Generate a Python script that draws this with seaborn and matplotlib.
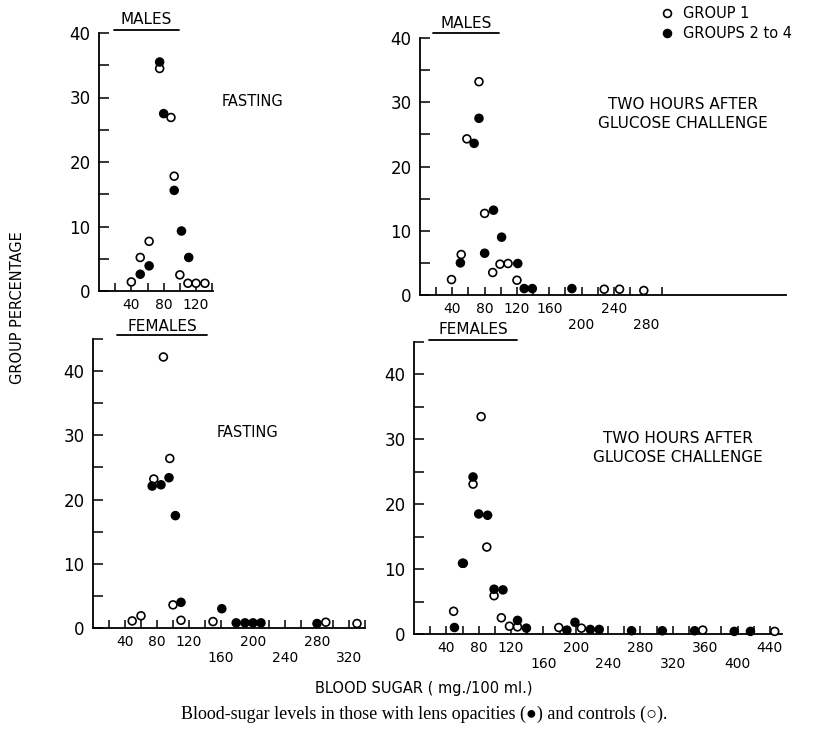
import numpy as np
import pandas as pd
import matplotlib
matplotlib.use("Agg")
import matplotlib.pyplot as plt
import seaborn as sns
from matplotlib.lines import Line2D

# blood sugar (mg/100 ml) and group percentage
# males, fasting
m_fast_g1_x = [40, 51, 62, 75, 89, 93, 100, 110, 120, 131]
m_fast_g1_y = [1.4, 5.2, 7.7, 34.5, 26.9, 17.8, 2.5, 1.2, 1.2, 1.2]
m_fast_g2_x = [51, 62, 75, 80, 93, 102, 111]
m_fast_g2_y = [2.6, 3.9, 35.5, 27.5, 15.6, 9.3, 5.2]

# males, two hours after glucose
m_gluc_g1_x = [39, 51, 58, 73, 80, 90, 99, 109, 120, 228, 247, 277]
m_gluc_g1_y = [2.4, 6.3, 24.3, 33.2, 12.7, 3.5, 4.8, 4.9, 2.3, 0.9, 0.9, 0.7]
m_gluc_g2_x = [50, 67, 73, 80, 91, 101, 121, 129, 139, 188]
m_gluc_g2_y = [5.0, 23.6, 27.5, 6.5, 13.2, 9.0, 4.9, 1.0, 1.0, 1.0]

# females, fasting
f_fast_g1_x = [49, 60, 76, 88, 96, 100, 110, 150, 291, 330]
f_fast_g1_y = [1.1, 1.9, 23.2, 42.2, 26.4, 3.6, 1.2, 1.0, 0.9, 0.7]
f_fast_g2_x = [74, 85, 95, 103, 110, 161, 179, 190, 200, 210, 280]
f_fast_g2_y = [22.1, 22.3, 23.4, 17.5, 4.0, 3.0, 0.8, 0.8, 0.8, 0.8, 0.7]

# females, two hours after glucose
f_gluc_g1_x = [49, 60, 73, 83, 90, 99, 108, 118, 128, 179, 207, 357, 446]
f_gluc_g1_y = [3.5, 10.9, 23.1, 33.5, 13.4, 5.9, 2.5, 1.2, 1.1, 1.0, 0.9, 0.6, 0.4]
f_gluc_g2_x = [50, 61, 73, 80, 91, 99, 110, 128, 139, 189, 199, 218, 229, 269, 307, 347, 396, 416]
f_gluc_g2_y = [1.0, 10.9, 24.2, 18.5, 18.3, 6.9, 6.8, 2.1, 0.9, 0.6, 1.8, 0.7, 0.7, 0.5, 0.5, 0.5, 0.4, 0.4]

group_names = ["GROUP 1", "GROUPS 2 to 4"]

sns.set_theme(style="ticks")
plt.rcParams["font.family"] = ["DejaVu Sans"]
plt.rcParams["text.color"] = "black"
plt.rcParams["xtick.color"] = "black"
plt.rcParams["ytick.color"] = "black"
plt.rcParams["axes.labelcolor"] = "black"

W, H = 827, 730
fig = plt.figure(figsize=(W / 100, H / 100), dpi=100)


def px_axes(left, top, right, bottom):
    return fig.add_axes([left / W, 1 - bottom / H, (right - left) / W, (bottom - top) / H])


def make_df(g1x, g1y, g2x, g2y):
    a = pd.DataFrame({"sugar": g1x, "pct": g1y, "group": group_names[0]})
    b = pd.DataFrame({"sugar": g2x, "pct": g2y, "group": group_names[1]})
    return pd.concat([a, b], ignore_index=True)


def style_axes(ax, xmax, ymax, tick_max, lower):
    ax.set_xlim(0, xmax)
    ax.set_ylim(0, ymax)
    xt = np.arange(20, tick_max + 1, 20)
    labs = []
    for v in xt:
        if v % 40:
            labs.append("")
        elif v in lower:
            labs.append("\n" + str(v))
        else:
            labs.append(str(v))
    ax.set_xticks(xt)
    ax.set_xticklabels(labs)
    yt = np.arange(0, ymax + 1, 5)
    ax.set_yticks(yt)
    ax.set_yticklabels([str(int(v)) if v % 10 == 0 else "" for v in yt])
    ax.tick_params(axis="x", direction="in", length=6, width=1.1, labelsize=10, pad=5)
    ax.tick_params(axis="y", direction="in", length=7, width=1.1, labelsize=12, pad=6)
    sns.despine(ax=ax)
    for s in ["left", "bottom"]:
        ax.spines[s].set_linewidth(1.3)
        ax.spines[s].set_color("black")
    ax.set_xlabel("")
    ax.set_ylabel("")


palette = {group_names[0]: "white", group_names[1]: "black"}
panels = [
    (make_df(m_fast_g1_x, m_fast_g1_y, m_fast_g2_x, m_fast_g2_y), (99, 33, 213, 291), 141, 40, 140, []),
    (make_df(m_gluc_g1_x, m_gluc_g1_y, m_gluc_g2_x, m_gluc_g2_y), (420, 38, 786, 295), 453, 40, 300, [200, 280]),
    (make_df(f_fast_g1_x, f_fast_g1_y, f_fast_g2_x, f_fast_g2_y), (93, 339, 365, 628), 340, 45, 340, [160, 240, 320]),
    (make_df(f_gluc_g1_x, f_gluc_g1_y, f_gluc_g2_x, f_gluc_g2_y), (414, 342, 782, 634), 455, 45, 440, [160, 240, 320, 400]),
]

axes = []
for i, (df, box, xmax, ymax, tmax, lower) in enumerate(panels):
    ax = px_axes(*box)
    sns.scatterplot(data=df, x="sugar", y="pct", hue="group", palette=palette,
                    edgecolor="black", linewidth=1.2, s=32, ax=ax,
                    legend=(i == 1), clip_on=False, zorder=3)
    style_axes(ax, xmax, ymax, tmax, lower)
    axes.append(ax)

sns.move_legend(axes[1], "upper left", bbox_to_anchor=(652 / W, 1 - 6 / H),
                bbox_transform=fig.transFigure, title=None, frameon=False,
                fontsize=10.5, handletextpad=0.1, labelspacing=0.35,
                borderaxespad=0, borderpad=0)


def underlined(x0, x1, y_text, y_line, text, size=11):
    fig.text((x0 + x1) / 2 / W, 1 - y_text / H, text, ha="center", va="center", fontsize=size)
    fig.add_artist(Line2D([x0 / W, x1 / W], [1 - y_line / H] * 2, color="black", lw=1.3))


underlined(114, 179, 20, 30, "MALES")
underlined(433, 499, 24, 33, "MALES")
underlined(117, 207, 326, 335, "FEMALES")
underlined(429, 517, 330, 340, "FEMALES")

fig.text(252 / W, 1 - 101 / H, "FASTING", ha="center", va="center", fontsize=10.5)
fig.text(247 / W, 1 - 433 / H, "FASTING", ha="center", va="center", fontsize=10.5)
fig.text(683 / W, 1 - 114 / H, "TWO HOURS AFTER\nGLUCOSE CHALLENGE", ha="center",
         va="center", fontsize=11, linespacing=1.3)
fig.text(678 / W, 1 - 448 / H, "TWO HOURS AFTER\nGLUCOSE CHALLENGE", ha="center",
         va="center", fontsize=11, linespacing=1.3)

fig.text(18 / W, 1 - 308 / H, "GROUP PERCENTAGE", rotation=90, ha="center",
         va="center", fontsize=10.5)
fig.text(424 / W, 1 - 688 / H, "BLOOD SUGAR ( mg./100 ml.)", ha="center",
         va="center", fontsize=10.5)
fig.text(424 / W, 1 - 714 / H,
         "Blood-sugar levels in those with lens opacities (\u25cf) and controls (\u25cb).",
         ha="center", va="center", fontsize=13, family=["Liberation Serif", "DejaVu Sans"])

fig.savefig("out.png", dpi=100)
